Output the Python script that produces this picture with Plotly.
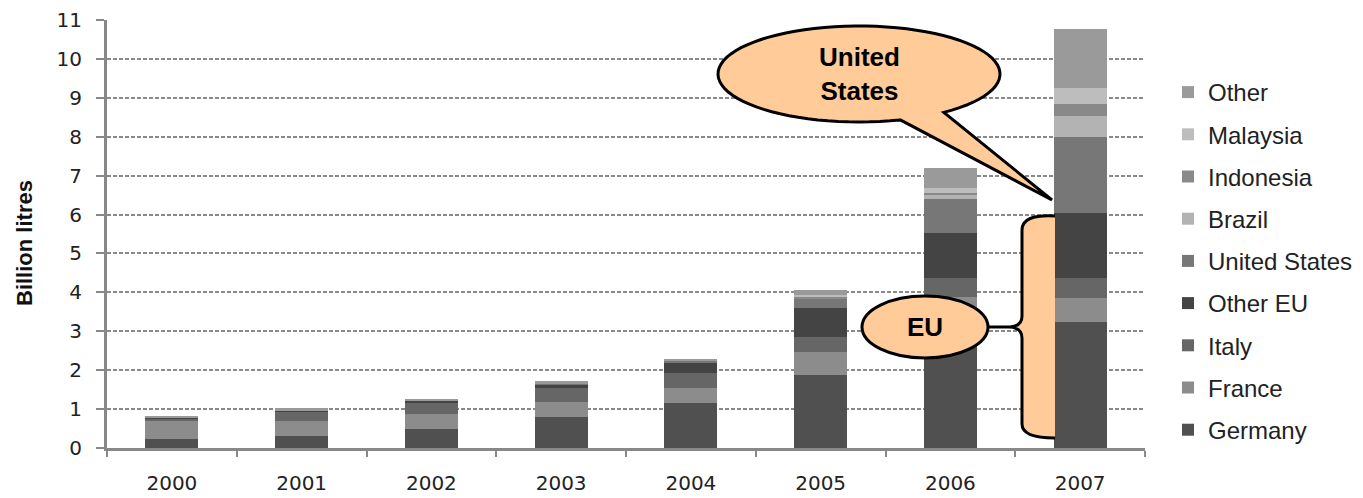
import plotly.graph_objects as go
import math

years = ["2000", "2001", "2002", "2003", "2004", "2005", "2006", "2007"]

germany       = [0.22, 0.30, 0.50, 0.80, 1.16, 1.88, 3.30, 3.25]
france        = [0.48, 0.40, 0.37, 0.39, 0.37, 0.60, 0.59, 0.61]
italy         = [0.06, 0.23, 0.28, 0.34, 0.39, 0.38, 0.47, 0.50]
other_eu      = [0.02, 0.04, 0.06, 0.08, 0.26, 0.73, 1.16, 1.67]
united_states = [0.00, 0.00, 0.00, 0.06, 0.08, 0.26, 0.87, 1.96]
brazil        = [0.00, 0.00, 0.00, 0.00, 0.00, 0.00, 0.10, 0.53]
indonesia     = [0.00, 0.00, 0.00, 0.00, 0.00, 0.03, 0.06, 0.32]
malaysia      = [0.00, 0.00, 0.00, 0.00, 0.00, 0.06, 0.12, 0.41]
other         = [0.02, 0.05, 0.05, 0.05, 0.03, 0.12, 0.52, 1.51]

series_names = ["Germany", "France", "Italy", "Other EU", "United States",
                "Brazil", "Indonesia", "Malaysia", "Other"]
series_values = [germany, france, italy, other_eu, united_states,
                 brazil, indonesia, malaysia, other]
series_colors = ["#505050", "#8c8c8c", "#666666", "#444444", "#777777",
                 "#b3b3b3", "#898989", "#bdbdbd", "#9a9a9a"]

y_ticks = list(range(0, 12))

fig = go.Figure()
nser = len(series_names)
for i, (name, vals, col) in enumerate(zip(series_names, series_values, series_colors)):
    fig.add_trace(go.Bar(x=years, y=vals, name=name, legendgroup=name,
                         legendrank=1000 + (nser - i),
                         marker=dict(color=col, line=dict(width=0))))

# page body has an 8px margin; compensate so the plot lands where the reference has it
O = 8
W, H = 1363 - O, 498 - O
# plot-area edges in window pixels
L, R, T, B = 107, 1145, 20, 448
def px(x):
    return (x - L) / (R - L)
def py(y):
    return (B - y) / (B - T)

# US speech bubble: ellipse + tail as one polygon
cx, cy, rx, ry = 859, 74, 141, 48
th1, th2 = math.radians(73), math.radians(53 + 360)
pts = []
n = 80
for i in range(n + 1):
    t = th1 + (th2 - th1) * i / n
    pts.append((cx + rx * math.cos(t), cy + ry * math.sin(t)))
pts.append((1052, 200))
path = "M " + " L ".join(f"{px(x):.5f},{py(y):.5f}" for x, y in pts) + " Z"

orange = "#FFCC99"
shapes = [
    dict(type="path", xref="paper", yref="paper", path=path,
         fillcolor=orange, line=dict(color="black", width=3), layer="above"),
]

def P(x, y):
    return f"{px(x):.5f},{py(y):.5f}"

brace = (f"M {P(1055,216)} Q {P(1022,214)} {P(1022,230)} L {P(1022,316)} "
         f"Q {P(1022,326)} {P(1010,327)} Q {P(1022,328)} {P(1022,338)} "
         f"L {P(1022,424)} Q {P(1022,438)} {P(1055,438)}")
shapes.append(dict(type="path", xref="paper", yref="paper", path=brace + " Z",
                   fillcolor=orange, line=dict(width=0), layer="above"))
shapes.append(dict(type="path", xref="paper", yref="paper", path=brace,
                   fillcolor="rgba(0,0,0,0)", line=dict(color="black", width=3),
                   layer="above"))
shapes.append(dict(type="line", xref="paper", yref="paper",
                   x0=px(987), y0=py(327), x1=px(1010), y1=py(327),
                   line=dict(color="black", width=3), layer="above"))
shapes.append(dict(type="circle", xref="paper", yref="paper",
                   x0=px(862), x1=px(988), y0=py(358), y1=py(296),
                   fillcolor=orange, line=dict(color="black", width=3),
                   layer="above"))

annotations = [
    dict(text="<b>United<br>States</b>", xref="paper", yref="paper",
         x=px(859), y=py(74), xanchor="center", yanchor="middle", showarrow=False,
         font=dict(family="Liberation Sans, Arial", size=26, color="black")),
    dict(text="<b>EU</b>", xref="paper", yref="paper",
         x=px(925), y=py(327), xanchor="center", yanchor="middle", showarrow=False,
         font=dict(family="Liberation Sans, Arial", size=26, color="black")),
    dict(text="<b>Billion litres</b>", xref="paper", yref="paper",
         x=px(25), y=py(243), xanchor="center", yanchor="middle", showarrow=False,
         textangle=-90,
         font=dict(family="Liberation Sans, Arial", size=22, color="#111")),
]

fig.update_layout(
    barmode="stack",
    bargap=0.59,
    width=W, height=H,
    margin=dict(l=L - O, r=W - (R - O), t=T - O, b=H - (B - O), autoexpand=False),
    paper_bgcolor="white", plot_bgcolor="white",
    shapes=shapes, annotations=annotations,
    showlegend=True,
    legend=dict(traceorder="grouped", x=px(1168), xanchor="left",
                y=py(70), yanchor="top", tracegroupgap=8,
                font=dict(family="Liberation Sans, Arial", size=24, color="#222"),
                bgcolor="rgba(0,0,0,0)"),
    font=dict(family="DejaVu Sans", color="#222"),
)
fig.update_xaxes(
    type="category", showline=True, linecolor="#888", linewidth=3,
    ticks="outside", tickson="boundaries", ticklen=6, tickwidth=2, tickcolor="#888",
    ticklabelstandoff=15, tickfont=dict(family="DejaVu Sans", size=20, color="#222"),
    showgrid=False,
)
fig.update_yaxes(
    range=[0, 11], tickvals=y_ticks, showline=True, linecolor="#888", linewidth=3,
    ticks="outside", ticklen=8, tickwidth=2, tickcolor="#888",
    ticklabelstandoff=10, tickfont=dict(family="DejaVu Sans", size=20, color="#222"),
    showgrid=True, gridcolor="#8a8a8a", gridwidth=1.5, griddash="4px,2px",
    zeroline=False,
)

fig.write_html("out.html")
